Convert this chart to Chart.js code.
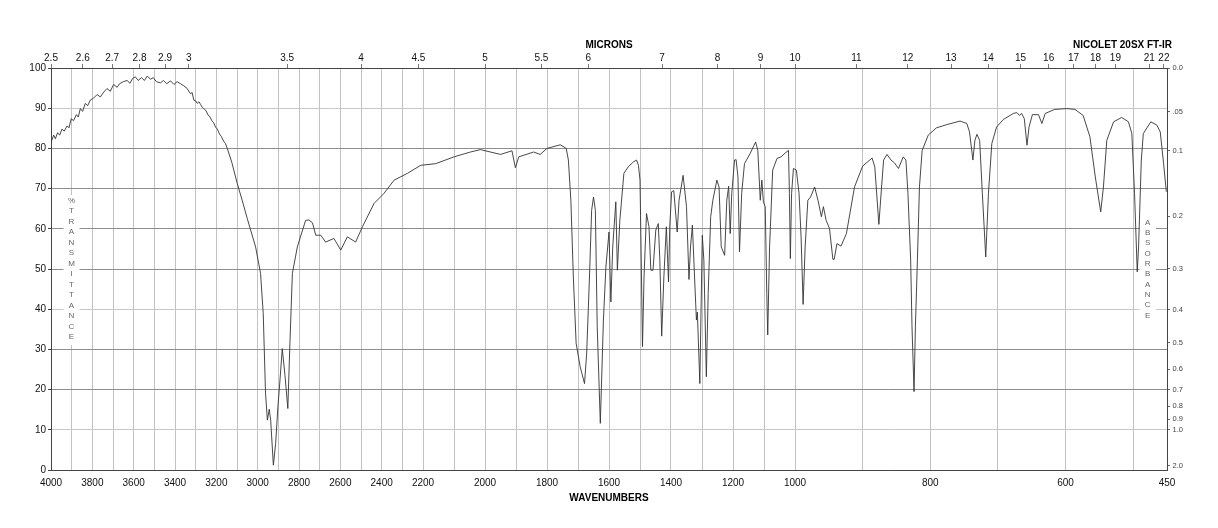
<!DOCTYPE html>
<html>
<head>
<meta charset="utf-8">
<script src="https://cdn.jsdelivr.net/npm/chart.js@4.4.0/dist/chart.umd.min.js"></script>
<style>
  html, body { margin: 0; padding: 0; background: #fff; }
  #wrap { width: 1218px; height: 528px; }
</style>
</head>
<body>
<div id="wrap"><canvas id="ir" width="1218" height="528"></canvas></div>
<script>
// spectrum: wavenumber (cm-1) and %T
const wavenumbers = [
  4000, 3987, 3979, 3968, 3958, 3947, 3936, 3922, 3913, 3902, 3891, 3877, 3868, 3858, 3847, 3834,
  3823, 3810, 3794, 3777, 3761, 3745, 3729, 3713, 3697, 3680, 3668, 3650, 3632, 3618, 3605, 3592,
  3578, 3562, 3548, 3534, 3519, 3505, 3490, 3470, 3456, 3440, 3422, 3405, 3390, 3374, 3358, 3341,
  3333, 3325, 3317, 3309, 3300, 3292, 3284, 3276, 3268, 3261, 3250, 3240, 3231, 3222, 3213, 3204,
  3195, 3185, 3175, 3165, 3156, 3147, 3125, 3099, 3075, 3050, 3034,
  3010, 2986, 2973, 2962, 2953, 2944, 2937, 2924, 2913, 2902, 2892, 2881, 2868, 2854, 2844, 2832,
  2808, 2768, 2752, 2735, 2719, 2695, 2671, 2631, 2598, 2566, 2526, 2493, 2437, 2389, 2340, 2275,
  2211, 2159, 2100, 2047, 2015, 1950, 1913, 1902, 1891, 1843, 1822, 1800, 1757, 1738, 1731, 1723,
  1715, 1706, 1693, 1679, 1672, 1663, 1656, 1650, 1644, 1638, 1628, 1618, 1610, 1600, 1594, 1588,
  1578, 1573, 1565, 1552, 1538, 1522, 1511, 1505, 1500, 1496, 1492, 1487, 1479, 1471, 1465, 1458,
  1449, 1441, 1436, 1430, 1423, 1415, 1408, 1404, 1398, 1391, 1380, 1374, 1361, 1350, 1342, 1337,
  1331, 1324, 1318, 1315, 1307, 1299, 1294, 1286, 1280, 1272, 1265, 1252, 1245, 1238, 1227, 1220,
  1214, 1209, 1204, 1195, 1190, 1184, 1179, 1172, 1163, 1145, 1127, 1120, 1112, 1107, 1102, 1096,
  1091, 1088, 1082, 1072, 1058, 1045, 1031, 1021, 1018, 1015, 1011, 1005, 998, 994, 991, 988,
  985, 981, 977, 971, 966, 961, 958, 954, 949, 944, 942, 938, 932, 924, 912, 900,
  886, 882, 876, 872, 869, 864, 858, 853, 847, 840, 836, 833, 829, 827, 824, 822,
  819, 816, 812, 803, 791, 776, 756, 746, 742, 737, 734, 731, 727, 723, 718, 714,
  709, 702, 692, 677, 672, 668, 665, 661, 657, 654, 649, 640, 635, 630, 616, 598,
  586, 574, 564, 556, 548, 544, 539, 529, 517, 507, 502, 498, 494, 492, 488, 485,
  474, 465, 460, 455, 451
];
const transmittance = [
  81.5, 83.3, 82.4, 83.9, 83.3, 84.8, 84.3, 85.6, 85.1, 87.4, 86.9, 88.4, 87.8, 89.9, 89.2, 91.2,
  90.6, 92.0, 92.5, 93.4, 92.8, 94.0, 94.9, 94.2, 95.9, 95.2, 96.1, 96.6, 96.9, 96.2, 97.4, 97.8,
  96.9, 97.6, 96.9, 98.0, 97.2, 97.6, 96.6, 96.3, 96.9, 96.1, 96.8, 95.9, 96.6, 96.1, 95.6, 94.9,
  94.2, 93.6, 93.9, 92.0, 91.8, 91.2, 91.6, 90.9, 90.2, 89.9, 89.4, 88.3, 87.9, 86.9, 86.4, 85.3,
  84.8, 83.6, 82.9, 81.8, 81.2, 80.0, 76.5, 71.3, 67.1, 62.5, 59.7,
  55.5, 48.9, 38.9, 19.1, 12.4, 15.1, 12.4, 1.2, 6.6, 15.7, 22.4, 30.2, 23.6, 15.3, 31.5, 48.9,
  55.5, 62.1, 62.2, 61.5, 58.4, 58.4, 56.7, 57.6, 54.7, 58.0, 56.7, 60.5, 66.3, 68.8, 72.1, 73.8,
  75.8, 76.2, 77.9, 79.1, 79.7, 78.5, 79.4, 75.2, 77.9, 79.1, 78.5, 80.0, 80.9, 80.0, 77.1, 67.1,
  48.0, 31.5, 25.7, 21.5, 29.0, 48.0, 64.6, 67.9, 64.6, 35.6, 11.6, 37.3, 50.5, 59.2, 41.8, 55.5,
  66.7, 49.7, 62.1, 73.8, 75.4, 76.6, 77.1, 75.8, 72.1, 52.2, 30.7, 48.0, 63.8, 60.5, 49.7, 49.7,
  59.7, 61.3, 52.2, 33.3, 48.0, 60.5, 46.8, 60.5, 69.2, 69.5, 59.2, 67.1, 73.3, 65.5, 47.4, 55.5,
  60.9, 48.0, 37.3, 39.3, 21.5, 58.4, 52.2, 23.2, 43.9, 63.0, 67.1, 72.1, 70.4, 55.5, 53.4, 67.1,
  70.6, 58.8, 68.8, 77.1, 77.2, 72.9, 54.3, 68.8, 76.2, 78.7, 81.6, 79.5, 67.1, 72.1, 66.7, 65.5,
  43.9, 33.6, 55.5, 74.6, 77.5, 77.9, 78.9, 79.5, 68.8, 52.6, 68.8, 75.0, 74.6, 68.8, 58.0, 41.2,
  55.5, 67.1, 67.9, 70.4, 67.1, 63.0, 65.5, 62.1, 60.1, 52.4, 52.4, 56.3, 55.7, 58.8, 70.4, 75.6,
  77.6, 75.4, 61.1, 70.4, 77.1, 78.5, 77.1, 76.4, 75.0, 77.9, 77.1, 68.8, 52.2, 35.6, 19.5, 35.6,
  52.2, 70.4, 79.5, 83.3, 85.1, 85.9, 86.8, 86.2, 84.1, 77.1, 82.0, 83.5, 82.0, 68.8, 53.0, 68.8,
  81.2, 85.3, 87.2, 88.7, 88.9, 88.2, 88.7, 87.4, 80.8, 85.3, 88.4, 88.4, 86.2, 88.7, 89.7, 89.9,
  89.7, 88.2, 82.9, 72.9, 64.2, 70.4, 82.0, 86.6, 87.7, 86.6, 83.7, 68.8, 49.3, 55.5, 77.1, 83.7,
  86.6, 85.8, 84.1, 76.2, 69.2
];

// axis ticks
const waveTicks = [4000, 3900, 3800, 3700, 3600, 3500, 3400, 3300, 3200, 3100, 3000, 2900, 2800,
  2700, 2600, 2500, 2400, 2300, 2200, 2100, 2000, 1900, 1800, 1700, 1600, 1500, 1400, 1300, 1200,
  1100, 1000, 900, 800, 700, 600, 500, 450];
const micronLabels = [2.5, 2.6, 2.7, 2.8, 2.9, 3, 3.5, 4, 4.5, 5, 5.5, 6, 7, 8, 9, 10, 11, 12, 13,
  14, 15, 16, 17, 18, 19, 21, 22];
const percentTicks = [0, 10, 20, 30, 40, 50, 60, 70, 80, 90, 100];
const absorbanceValues = [0, 0.05, 0.1, 0.2, 0.3, 0.4, 0.5, 0.6, 0.7, 0.8, 0.9, 1.0, 2.0];
const absorbanceLabels = ['0.0', '.05', '0.1', '0.2', '0.3', '0.4', '0.5', '0.6', '0.7', '0.8', '0.9', '1.0', '2.0'];

// the instrument plots three equal-width panels with different cm-1 per inch
const panelBreaks = [4000, 2200, 1000, 450];

function waveFraction(v) {
  for (let i = 0; i < 3; i++) {
    const hi = panelBreaks[i], lo = panelBreaks[i + 1];
    if (v >= lo || i === 2) return (i + (hi - v) / (hi - lo)) / 3;
  }
}
function fractionToWave(f) {
  const i = Math.min(2, Math.max(0, Math.floor(f * 3)));
  const hi = panelBreaks[i], lo = panelBreaks[i + 1];
  return hi - (f * 3 - i) * (hi - lo);
}

class WaveScale extends Chart.LinearScale {
  getPixelForValue(value) {
    return this.getPixelForDecimal(waveFraction(value));
  }
  getValueForPixel(pixel) {
    return fractionToWave(this.getDecimalForPixel(pixel));
  }
}
WaveScale.id = 'wavenumber';
WaveScale.defaults = Chart.LinearScale.defaults;
Chart.register(WaveScale);

Chart.defaults.font.family = '"Liberation Sans", Arial, sans-serif';
Chart.defaults.font.size = 10;
Chart.defaults.color = '#111';

const AXIS = '#444';

// page texts + the stacked axis captions
const labelsPlugin = {
  id: 'irLabels',
  beforeDatasetsDraw(chart) {
    const ctx = chart.ctx;
    const a = chart.chartArea;
    const yMid = chart.scales.y.getPixelForValue(50);
    ctx.save();
    ctx.fillStyle = '#fff';
    ctx.fillRect(63.5, 195, 16, 150);
    ctx.fillRect(a.right - 27.5, 216, 16.5, 106);
    ctx.fillStyle = '#666';
    ctx.font = '8px "Liberation Sans", Arial, sans-serif';
    ctx.textAlign = 'center';
    ctx.textBaseline = 'middle';
    const left = '%TRANSMITTANCE';
    for (let i = 0; i < left.length; i++) {
      ctx.fillText(left[i], 71.5, yMid + (i - (left.length - 1) / 2) * 10.5);
    }
    const right = 'ABSORBANCE';
    for (let i = 0; i < right.length; i++) {
      ctx.fillText(right[i], a.right - 19.3, yMid + (i - (right.length - 1) / 2) * 10.3);
    }
    ctx.restore();
  },
  afterDraw(chart) {
    const ctx = chart.ctx;
    ctx.save();
    ctx.fillStyle = '#000';
    ctx.font = 'bold 10px "Liberation Sans", Arial, sans-serif';
    ctx.textAlign = 'right';
    ctx.textBaseline = 'middle';
    ctx.fillText('NICOLET 20SX FT-IR', 1172, 45);
    ctx.restore();
  }
};

new Chart(document.getElementById('ir'), {
  type: 'line',
  data: {
    datasets: [{
      data: wavenumbers.map((w, i) => ({ x: w, y: transmittance[i] })),
      borderColor: '#333',
      borderWidth: 0.9,
      pointRadius: 0,
      tension: 0,
      fill: false
    }]
  },
  options: {
    responsive: false,
    animation: false,
    events: [],
    layout: { padding: 0 },
    plugins: { legend: { display: false }, tooltip: { enabled: false } },
    scales: {
      x: {
        type: 'wavenumber',
        position: 'bottom',
        min: 450, max: 4000,
        afterBuildTicks: s => { s.ticks = waveTicks.map(v => ({ value: v })); },
        afterFit: s => { s.height = 58; },
        ticks: {
          autoSkip: false, maxRotation: 0, padding: 7, color: '#111',
          callback: v => (v % 200 === 0 || v === 450) ? String(v) : ''
        },
        grid: { color: '#c2c2c2', drawTicks: false },
        border: { color: AXIS },
        title: {
          display: true, text: 'WAVENUMBERS', color: '#000',
          font: { weight: 'bold', size: 10 }, padding: { top: 0, bottom: 24 }
        }
      },
      x2: {
        type: 'wavenumber',
        position: 'top',
        min: 450, max: 4000,
        afterBuildTicks: s => { s.ticks = micronLabels.map(m => ({ value: 10000 / m })); },
        afterFit: s => { s.height = 68; },
        ticks: {
          autoSkip: false, maxRotation: 0, padding: 0, color: '#111',
          callback: (v, i) => String(micronLabels[i])
        },
        grid: { drawOnChartArea: false, tickLength: 4, tickColor: '#777' },
        border: { color: AXIS },
        title: {
          display: true, text: 'MICRONS', color: '#000',
          font: { weight: 'bold', size: 10 }, padding: { top: 39, bottom: 0 }
        }
      },
      y: {
        position: 'left',
        min: 0, max: 100,
        afterBuildTicks: s => { s.ticks = percentTicks.map(v => ({ value: v })); },
        afterFit: s => { s.width = 51; },
        ticks: { padding: 2, color: '#111' },
        grid: {
          tickLength: 3,
          tickColor: AXIS,
          color: c => (c.tick && [90, 40, 10].includes(c.tick.value)) ? '#c8c8c8' : '#8e8e8e'
        },
        border: { color: AXIS }
      },
      y2: {
        position: 'right',
        min: 0, max: 100,
        afterBuildTicks: s => { s.ticks = absorbanceValues.map(a => ({ value: 100 * Math.pow(10, -a) })); },
        afterFit: s => { s.width = 51; },
        ticks: {
          padding: 2.5, color: '#444', font: { size: 7.5 },
          callback: (v, i) => absorbanceLabels[i]
        },
        grid: { drawOnChartArea: false, tickLength: 3, tickColor: '#666' },
        border: { color: AXIS }
      }
    }
  },
  plugins: [labelsPlugin]
});
</script>
</body>
</html>
